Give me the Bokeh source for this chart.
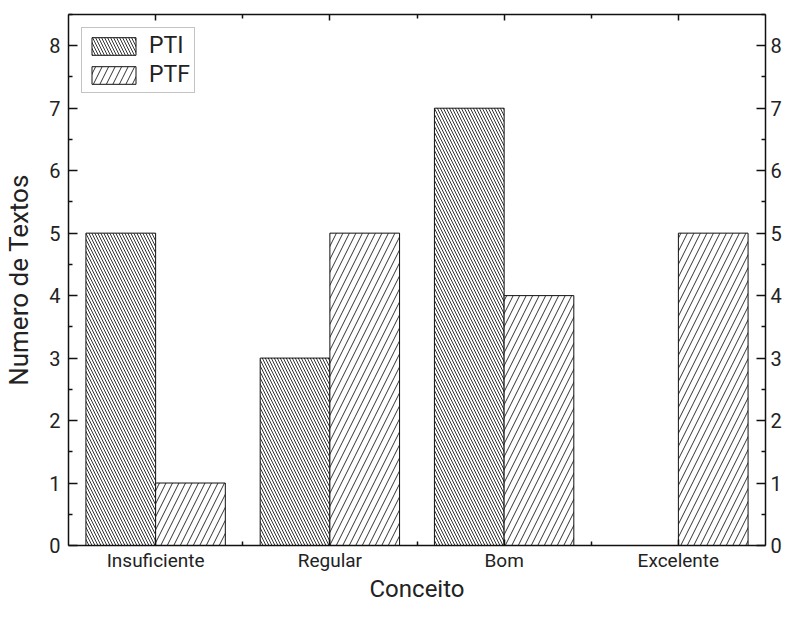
from bokeh.plotting import figure
from bokeh.models import Range1d, LinearAxis, FixedTicker, ColumnDataSource, Legend, LegendItem
from bokeh.transform import dodge
from bokeh.embed import file_html
from bokeh.resources import INLINE

categories = ["Insuficiente", "Regular", "Bom", "Excelente"]
pti = [5, 3, 7, 0]
ptf = [1, 5, 4, 5]
y_ticks = [0, 1, 2, 3, 4, 5, 6, 7, 8]

xs = list(range(1, len(categories) + 1))
src = ColumnDataSource(dict(x=xs, pti=pti, ptf=ptf))

FONT = "Roboto"
p = figure(width=784, height=605, output_backend="svg", toolbar_location=None,
           x_range=Range1d(0.5, 4.5), y_range=Range1d(0, 8.5),
           min_border_left=68, min_border_top=14, min_border_bottom=60, min_border_right=4,
           x_axis_label="Conceito", y_axis_label="Numero de Textos")
p.grid.visible = False
p.outline_line_color = None
p.background_fill_color = "white"
p.border_fill_color = "white"

r1 = p.vbar(x=dodge("x", -0.2, range=p.x_range), top="pti", width=0.4, source=src,
            fill_color="white", line_color="#111111", line_width=1,
            hatch_pattern="\\", hatch_scale=6, hatch_color="#333333", hatch_weight=1)
r2 = p.vbar(x=dodge("x", 0.2, range=p.x_range), top="ptf", width=0.4, source=src,
            fill_color="white", line_color="#111111", line_width=1,
            hatch_pattern="/", hatch_scale=13, hatch_color="#333333", hatch_weight=1)

xt = FixedTicker(ticks=xs, minor_ticks=[x + 0.5 for x in xs[:-1]])
yt = FixedTicker(ticks=y_ticks, minor_ticks=[y + 0.5 for y in y_ticks])

def style_axis(ax, major_len, minor_len):
    ax.axis_line_color = "#111111"
    ax.axis_line_width = 1.5
    ax.major_tick_line_color = "#111111"
    ax.minor_tick_line_color = "#111111"
    ax.major_tick_line_width = 1.5
    ax.minor_tick_line_width = 1.5
    ax.major_tick_in = major_len
    ax.major_tick_out = 0
    ax.minor_tick_in = minor_len
    ax.minor_tick_out = 0
    ax.major_label_text_font = FONT
    ax.major_label_text_font_size = "20px"
    ax.major_label_text_color = "#222222"
    ax.axis_label_text_font = FONT
    ax.axis_label_text_font_size = "25px"
    ax.axis_label_text_font_style = "normal"
    ax.axis_label_text_color = "#222222"

xa = p.xaxis[0]
xa.ticker = xt
xa.major_label_overrides = {x: c for x, c in zip(xs, categories)}
style_axis(xa, 6, 4)
xa.major_label_text_font_size = "19px"
xa.axis_label_text_font_size = "24px"
xa.major_label_standoff = 3
xa.axis_label_standoff = 0

ya = p.yaxis[0]
ya.ticker = yt
style_axis(ya, 9, 4)
ya.axis_label_text_font_size = "26px"
ya.major_label_standoff = 8
ya.axis_label_standoff = 12

top = LinearAxis(ticker=xt)
style_axis(top, 6, 4)
top.major_label_overrides = {x: "" for x in xs}
top.major_label_standoff = 0
top.axis_label_standoff = 0
p.add_layout(top, "above")

right = LinearAxis(ticker=yt)
style_axis(right, 9, 4)
right.major_label_standoff = 5
right.axis_label_standoff = 0
p.add_layout(right, "right")

legend = Legend(items=[LegendItem(label="PTI", renderers=[r1]), LegendItem(label="PTF", renderers=[r2])],
                location="top_left")
legend.label_text_font = FONT
legend.label_text_font_size = "23px"
legend.label_text_color = "#222222"
legend.glyph_width = 55
legend.glyph_height = 22
legend.spacing = 2
legend.padding = 4
legend.margin = 13
legend.label_standoff = 8
legend.border_line_color = "#888888"
legend.border_line_width = 1.5
legend.background_fill_color = "white"
p.add_layout(legend)

open("out.html", "w").write(file_html(p, INLINE))
